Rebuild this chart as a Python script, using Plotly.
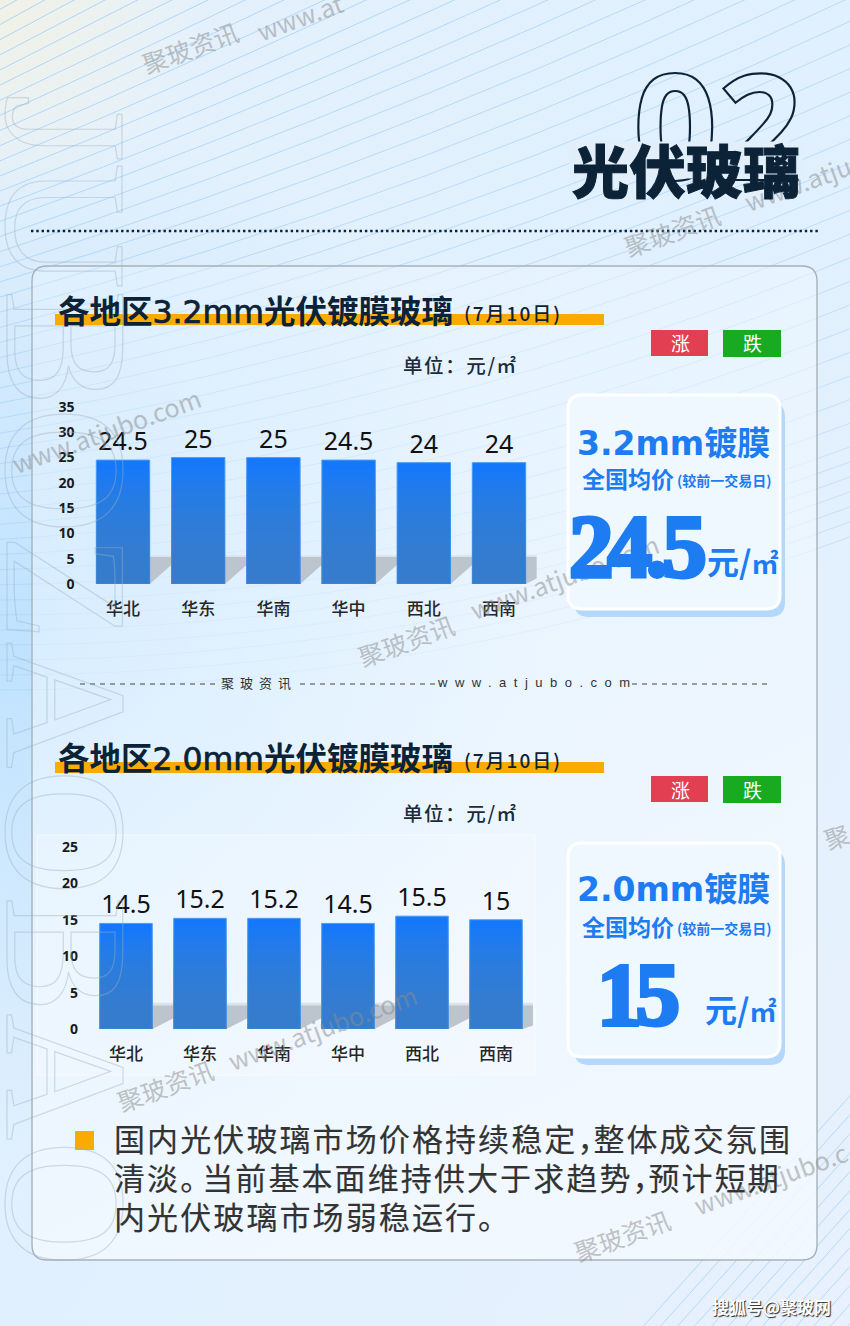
import base64
import plotly.graph_objects as go

W, H = 850, 1326
regions = ["华北", "华东", "华南", "华中", "西北", "西南"]
values_32 = [24.5, 25, 25, 24.5, 24, 24]
values_20 = [14.5, 15.2, 15.2, 14.5, 15.5, 15]
ticks_32 = [0, 5, 10, 15, 20, 25, 30, 35]
ticks_20 = [0, 5, 10, 15, 20, 25]
avg_32 = "24.5"
avg_20 = "15"
body_lines = ['国内光伏玻璃市场价格持续稳定<span style="letter-spacing:-15px">，</span>整体成交氛围',
              '清淡<span style="letter-spacing:-9px">。</span>当前基本面维持供大于求趋势<span style="letter-spacing:-15px">，</span>预计短期',
              '内光伏玻璃市场弱稳运行<span style="letter-spacing:-9px">。</span>']

CJK = "Noto Sans CJK SC"
NAVY = "#0c2237"
BLUE = "#1d7cf2"
ORANGE = "#f9ab00"


def fx(p):
    return p / W


def fy(p):
    return 1 - p / H


# ---------- decorative page background ----------
def background_svg():
    parts = [f'<svg xmlns="http://www.w3.org/2000/svg" width="{W}" height="{H}" viewBox="0 0 {W} {H}">',
             '<defs>',
             '<linearGradient id="b" x1="0" y1="0" x2="1" y2="1"><stop offset="0" stop-color="#e5f1fc"/>'
             '<stop offset="0.5" stop-color="#e0f0fe"/><stop offset="1" stop-color="#e8f1fd"/></linearGradient>',
             '<radialGradient id="l" gradientUnits="userSpaceOnUse" cx="20" cy="640" r="520">'
             '<stop offset="0" stop-color="#bfe2ff"/><stop offset="1" stop-color="#bfe2ff" stop-opacity="0"/></radialGradient>',
             '<radialGradient id="t" gradientUnits="userSpaceOnUse" cx="0" cy="0" r="210">'
             '<stop offset="0" stop-color="#f1f2e6"/><stop offset="1" stop-color="#f1f2e6" stop-opacity="0"/></radialGradient>',
             '<linearGradient id="c" x1="0" y1="0" x2="0.35" y2="1"><stop offset="0" stop-color="#eaf5ff" stop-opacity="0.35"/>'
             '<stop offset="0.5" stop-color="#f0f8ff" stop-opacity="0.6"/>'
             '<stop offset="1" stop-color="#f3f9ff" stop-opacity="0.85"/></linearGradient>',
             '</defs>',
             f'<rect width="{W}" height="{H}" fill="url(#b)"/>',
             f'<rect width="{W}" height="{H}" fill="url(#l)"/>',
             f'<rect width="{W}" height="{H}" fill="url(#t)"/>']
    for k in range(46):
        y0 = 15 + k * 15
        t = min(y0 / 600, 1)
        slope = 0.58 - 0.4 * t
        y1 = y0 - 870 * slope
        bow = 80 * t
        op = 0.85 - 0.4 * t
        parts.append(f'<path d="M-10 {y0:.1f} Q430 {(y0 + y1) / 2 + bow:.1f} 860 {y1:.1f}" fill="none" '
                     f'stroke="#a0cef8" stroke-width="1" stroke-opacity="{op:.2f}"/>')
    for k in range(30):
        x0 = 640 + k * 17
        parts.append(f'<path d="M{x0} 1330 L{x0 + 260} 1040" fill="none" stroke="#a0cef8" '
                     f'stroke-width="1" stroke-opacity="0.7"/>')
    parts.append('<rect x="32" y="266" width="785" height="994" rx="15" fill="url(#c)"/>')
    parts.append('</svg>')
    return "data:image/svg+xml;base64," + base64.b64encode("".join(parts).encode()).decode()


def rrect(x0, y0, x1, y1, r):
    a, b, c, d = x0, y0, x1, y1
    pts = [(a + r, b), (c - r, b), (c, b), (c, b + r), (c, d - r), (c, d), (c - r, d), (a + r, d), (a, d), (a, d - r),
           (a, b + r), (a, b), (a + r, b)]
    s = f"M{fx(pts[0][0])},{fy(pts[0][1])} L{fx(pts[1][0])},{fy(pts[1][1])} "
    s += f"Q{fx(pts[2][0])},{fy(pts[2][1])} {fx(pts[3][0])},{fy(pts[3][1])} "
    s += f"L{fx(pts[4][0])},{fy(pts[4][1])} Q{fx(pts[5][0])},{fy(pts[5][1])} {fx(pts[6][0])},{fy(pts[6][1])} "
    s += f"L{fx(pts[7][0])},{fy(pts[7][1])} Q{fx(pts[8][0])},{fy(pts[8][1])} {fx(pts[9][0])},{fy(pts[9][1])} "
    s += f"L{fx(pts[10][0])},{fy(pts[10][1])} Q{fx(pts[11][0])},{fy(pts[11][1])} {fx(pts[12][0])},{fy(pts[12][1])} Z"
    return s


shapes = []
ann = []


def px_rect(x0, y0, x1, y1, color, line=None, lw=0):
    shapes.append(dict(type="rect", xref="paper", yref="paper", x0=fx(x0), x1=fx(x1), y0=fy(y0), y1=fy(y1),
                       fillcolor=color, line=dict(color=line or color, width=lw), layer="below"))


def px_path(path, fill, line=None, lw=0):
    shapes.append(dict(type="path", xref="paper", yref="paper", path=path, fillcolor=fill,
                       line=dict(color=line or fill, width=lw), layer="below"))


def text(x, y, s, size, color="#222222", anchor="center", weight=400, family=CJK, angle=0, opacity=1,
         **kw):
    ann.append(dict(xref="paper", yref="paper", x=fx(x), y=fy(y), text=s, showarrow=False, xanchor=anchor,
                    yanchor="middle", textangle=angle, opacity=opacity,
                    font=dict(size=size, color=color, family=family, weight=weight), **kw))


# big outlined watermark letters on the left edge
text(66, 680, '<span style="fill:none;stroke:#9fb0bf;stroke-width:1.2px">JUBOZAOBAO</span>', 176, angle=90,
     family="Liberation Sans Narrow", opacity=0.42)

# rotated site watermarks
WM = dict(size=25, color="#8c8c8c", angle=-20, opacity=0.5)
for cx, cy, s in [(190, 47, "聚玻资讯"), (300, 16, "www.at"),
                  (672, 230, "聚玻资讯"), (797, 183, "www.atju"),
                  (406, 640, "聚玻资讯"), (564, 576, "www.atjubo.com"),
                  (106, 430, "www.atjubo.com"),
                  (165, 1085, "聚玻资讯"), (322, 1027, "www.atjubo.com"),
                  (622, 1235, "聚玻资讯"), (770, 1178, "www.atjubo.c"),
                  (836, 836, "聚")]:
    text(cx, cy, s, **WM)

# header
text(717, 122, '<span style="fill:none;stroke:#0c2237;stroke-width:2.2px">02</span>', 148, weight=700,
     family="Noto Sans")
ann.append(dict(xref="paper", yref="paper", x=fx(686), y=fy(160), text=" ", showarrow=False, width=232, height=36,
                bgcolor="#e2effb", borderpad=0, xanchor="center", yanchor="middle"))
text(686, 168, '<span style="stroke:#0c2237;stroke-width:1px">光伏玻璃</span>', 57, color=NAVY, weight=900)

shapes.append(dict(type="line", xref="paper", yref="paper", x0=fx(31), x1=fx(820), y0=fy(231), y1=fy(231),
                   line=dict(color=NAVY, width=2.4, dash="2.4px,2.9px"), layer="below"))

# card outline (its fill is part of the background picture)
px_path(rrect(32, 266, 817, 1260, 15), "rgba(0,0,0,0)", "#a9b1b8", 1.4)


def section(title_a, title_b, title_c, yc_title, bar_top, bar_bot, unit_y, badge_top, box_top, box_bot):
    px_rect(55, bar_top, 604, bar_bot, ORANGE)
    s = (f'{title_a}<span style="font-family:DejaVu Sans;font-weight:400;stroke:#0c2237;stroke-width:0.7px">'
         f'{title_b}</span>{title_c}')
    text(56, yc_title, s, 31.5, color=NAVY, anchor="left", weight=700)
    text(462, yc_title + 3, '<span style="letter-spacing:2px">(7月10日)</span>', 19, color=NAVY, anchor="left",
         weight=500)
    text(401, unit_y, '<span style="letter-spacing:1.6px">单位：元/㎡</span>', 19.5, color="#1b2b3a", anchor="left",
         weight=500)
    px_rect(651, badge_top, 708, badge_top + 26, "#e23f52")
    px_rect(723, badge_top, 781, badge_top + 27, "#18ab22")
    text(680, badge_top + 13, "涨", 19, color="#ffffff")
    text(752, badge_top + 13, "跌", 19, color="#ffffff")
    px_path(rrect(574, box_top + 7, 785, box_bot + 8, 15), "#b4d8fa")
    px_path(rrect(568, box_top, 780, box_bot, 14), "#f0f8ff", "#ffffff", 3)


section("各地区", "3.2mm", "光伏镀膜玻璃", 309, 314, 325, 364, 330, 395, 609)
section("各地区", "2.0mm", "光伏镀膜玻璃", 756, 762, 773, 812, 776, 843, 1057)

# box texts
LAT = '<span style="font-family:DejaVu Sans">{}</span>镀膜'
text(673, 441, LAT.format("3.2mm"), 33, color=BLUE, weight=700)
text(673, 887, LAT.format("2.0mm"), 33, color=BLUE, weight=700)
for yy in (478, 926):
    text(580, yy, "全国均价", 23, color=BLUE, anchor="left", weight=700)
    text(675, yy + 2, "(较前一交易日)", 14, color=BLUE, anchor="left", weight=700)
big = '<span style="stroke:#1d7cf2;stroke-width:4px;letter-spacing:{}px">{}</span>'
text(636, 546, big.format(-6, avg_32), 89, color=BLUE, weight=700, family="Liberation Sans Narrow")
text(637, 994, big.format(-6, avg_20), 89, color=BLUE, weight=700, family="Liberation Sans Narrow")
unit = '元/<span style="font-size:27px">㎡</span>'
text(742, 560, unit, 32, color=BLUE, weight=700)
text(740, 1008, unit, 32, color=BLUE, weight=700)

# divider
for a, b in [(80, 218), (300, 442), (632, 772)]:
    shapes.append(dict(type="line", xref="paper", yref="paper", x0=fx(a), x1=fx(b), y0=fy(684), y1=fy(684),
                       line=dict(color="#444444", width=1, dash="5px,5px"), layer="below"))
text(259, 683, '<span style="letter-spacing:6px">聚玻资讯</span>', 13, color="#333333")
text(537, 683, '<span style="letter-spacing:7.5px">www.atjubo.com</span>', 13, color="#333333", family="Liberation Sans")

# frame behind chart 2
px_rect(37, 835, 535, 1075, "rgba(255,255,255,0.18)", "rgba(255,255,255,0.6)", 1)

# conclusion text
px_rect(75, 1131, 94, 1150, ORANGE)
for ln, yy in zip(body_lines, (1137, 1176, 1215)):
    text(112, yy, f'<span style="letter-spacing:2.1px;stroke:#333333;stroke-width:0.15px">{ln}</span>', 31,
         color="#333333", anchor="left")

text(771, 1306, "搜狐号@聚玻网", 17, color="#ffffff", weight=700)
ann[-1]["font"]["shadow"] = "1px 1px 1px #222222"

# ---------- charts ----------
fig = go.Figure()
BAR_W = 0.71
LEVELS = 14


def add_chart(values, ticks, xa, ya, xdom, ydom, ymax, shadow_top, shadow_low, last_ext):
    n = len(values)
    pos = list(range(n))
    fig.add_trace(go.Bar(x=pos, y=values, xaxis=f"x{xa}", yaxis=f"y{ya}", width=BAR_W,
                         marker=dict(color="#1578fb", line=dict(color="#4a9cf5", width=1)),
                         text=[str(v) for v in values], textposition="outside", cliponaxis=False,
                         textfont=dict(family="Noto Sans", size=25, color="#111111"), hoverinfo="skip",
                         showlegend=False))
    for k in range(1, LEVELS + 1):
        frac = 0.92 * k / LEVELS
        fig.add_trace(go.Bar(x=pos, y=[v * frac for v in values], xaxis=f"x{xa}", yaxis=f"y{ya}", width=BAR_W,
                             marker=dict(color="rgba(62,130,198,0.12)", line=dict(width=0)),
                             hoverinfo="skip", showlegend=False))
    soft = (shadow_top - shadow_low) * 0.18
    for i in pos:
        left = i + BAR_W / 2
        right = i + 1 - BAR_W / 2 if i < n - 1 else i + last_ext
        low = shadow_low if i < n - 1 else shadow_low + (shadow_top - shadow_low) * 0.1
        shapes.append(dict(type="path", xref=f"x{xa}", yref=f"y{ya}",
                           path=f"M{left},{shadow_top} L{right},{shadow_top} L{right},{low} L{left},0 Z",
                           fillcolor="#dbe3ea", line=dict(width=0), layer="below"))
        shapes.append(dict(type="path", xref=f"x{xa}", yref=f"y{ya}",
                           path=f"M{left},{shadow_top - soft} L{right},{shadow_top - soft} L{right},{low} L{left},0 Z",
                           fillcolor="#bcc4cd", line=dict(width=0), layer="below"))
    fig.update_layout({
        f"xaxis{xa}": dict(domain=xdom, range=[-0.5, n - 0.5], anchor=f"y{ya}", tickmode="array", tickvals=pos,
                           ticktext=regions, ticks="", showgrid=False, zeroline=False, showline=False,
                           automargin=False,
                           tickfont=dict(family=CJK, size=17, color="#262626", weight=500),
                           ticklabelstandoff=13, fixedrange=True),
        f"yaxis{ya}": dict(domain=ydom, range=[0, ymax], anchor=f"x{xa}", tickmode="array", tickvals=ticks,
                           ticktext=[str(t) for t in ticks], ticks="", showgrid=False, zeroline=False,
                           showline=False, automargin=False,
                           tickfont=dict(family="Open Sans", size=14, color="#1a1a1a", weight=700),
                           ticklabelstandoff=10, fixedrange=True),
    })


add_chart(values_32, ticks_32, "", "", [fx(85.4), fx(536.6)], [fy(584), fy(407)], 35, 5.7, 3.8, 0.88)
add_chart(values_20, ticks_20, "2", "2", [fx(89), fx(533)], [fy(1029), fy(847)], 25, 3.6, 1.5, 0.87)

fig.update_layout(
    width=W, height=H, autosize=False, margin=dict(l=0, r=0, t=0, b=0, pad=0),
    paper_bgcolor="#e4f1fe", plot_bgcolor="rgba(0,0,0,0)", barmode="overlay", showlegend=False,
    images=[dict(source=background_svg(), xref="paper", yref="paper", x=0, y=1, sizex=1, sizey=1, xanchor="left",
                 yanchor="top", sizing="stretch", layer="below")],
    shapes=shapes, annotations=ann,
)

fig.write_html("out.html", config=dict(displayModeBar=False),
               post_script="document.body.style.margin='0';document.body.style.overflow='hidden';")
